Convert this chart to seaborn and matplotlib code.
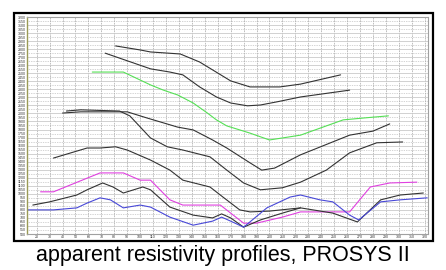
import numpy as np
import pandas as pd
import matplotlib
matplotlib.use('Agg')
import matplotlib.pyplot as plt
import seaborn as sns
from matplotlib.patches import Rectangle
from matplotlib.ticker import MultipleLocator

# profile data (station, apparent resistivity)
A_x = [81, 100, 108, 131, 146, 170, 185, 208, 224, 255]
A_y = [2840, 2790, 2765, 2740, 2640, 2405, 2330, 2330, 2365, 2480]

B_x = [73, 108, 123, 133, 146, 159, 170, 183, 193, 206, 224, 262]
B_y = [2750, 2555, 2515, 2480, 2330, 2205, 2130, 2095, 2105, 2145, 2205, 2290]

G_x = [63, 87, 108, 118, 129, 141, 152, 159, 167, 177, 185, 200, 210, 224, 257, 274, 292]
G_y = [2515, 2515, 2355, 2290, 2230, 2130, 2005, 1920, 1845, 1795, 1755, 1670, 1695, 1730, 1920, 1945, 1970]

D2_x = [40, 54, 90, 105, 129, 141, 156, 167, 185, 194, 204, 224, 262, 280, 293]
D2_y = [2005, 2020, 2020, 1945, 1830, 1795, 1670, 1570, 1385, 1295, 1320, 1485, 1730, 1780, 1870]

D1_x = [43, 54, 84, 92, 108, 121, 133, 154, 167, 180, 193, 210, 224, 244, 262, 283, 303]
D1_y = [2030, 2045, 2030, 1970, 1695, 1585, 1545, 1460, 1295, 1135, 1050, 1075, 1145, 1295, 1510, 1635, 1645]

C_x = [33, 59, 69, 81, 90, 108, 123, 133, 154, 164, 177, 185, 200, 224]
C_y = [1445, 1570, 1570, 1585, 1545, 1420, 1295, 1170, 1085, 960, 800, 775, 785, 825]

M_x = [23, 33, 46, 59, 69, 87, 100, 108, 123, 133, 162, 180, 190, 210, 224, 262, 278, 293, 314]
M_y = [1025, 1025, 1110, 1195, 1260, 1260, 1170, 1170, 925, 860, 860, 635, 635, 710, 775, 775, 1085, 1135, 1145]

E_x = [17, 30, 51, 59, 71, 79, 87, 95, 102, 108, 123, 141, 156, 163, 170, 180, 193, 210, 224, 249, 268, 286, 301, 319]
E_y = [860, 900, 985, 1050, 1135, 1085, 1010, 1050, 1085, 1050, 835, 735, 700, 750, 700, 585, 675, 760, 825, 760, 650, 925, 985, 1010]

BL_x = [13, 33, 51, 59, 69, 77, 87, 100, 108, 123, 141, 156, 163, 170, 180, 198, 216, 224, 239, 249, 262, 269, 286, 301, 322]
BL_y = [800, 800, 825, 885, 950, 925, 825, 860, 835, 710, 610, 660, 710, 660, 585, 825, 960, 985, 925, 900, 735, 675, 900, 925, 950]

profiles = [
    (A_x, A_y, '#333333'),
    (B_x, B_y, '#333333'),
    (G_x, G_y, '#55e055'),
    (D2_x, D2_y, '#333333'),
    (D1_x, D1_y, '#333333'),
    (C_x, C_y, '#333333'),
    (M_x, M_y, '#e040e0'),
    (E_x, E_y, '#333333'),
    (BL_x, BL_y, '#4848d8'),
]

sns.set_theme(style='white')
plt.rcParams['font.family'] = ['Liberation Sans', 'DejaVu Sans']

fig = plt.figure(figsize=(4.46, 2.70), dpi=100)
ax = fig.add_axes([27 / 446, 36 / 270, 401 / 446, 217 / 270])

for xs, ys, col in profiles:
    sns.lineplot(x=xs, y=ys, color=col, lw=0.8, sort=False, ax=ax, legend=False)

ax.set_xlim(12.5, 322.6)
ax.set_ylim(500, 3200)

# grid like the PROSYS screen
ax.xaxis.set_major_locator(MultipleLocator(10))
ax.yaxis.set_major_locator(MultipleLocator(100))
ax.yaxis.set_minor_locator(MultipleLocator(50))
ax.grid(True, which='major', axis='x', color='#b5b5b5', lw=0.6, ls=(0, (2, 1)))
ax.grid(True, which='major', axis='y', color='#cacaca', lw=0.6, ls='-')
ax.grid(True, which='minor', axis='y', color='#aaaaaa', lw=0.5, ls=(0, (1, 1.5)))
ax.set_axisbelow(True)

ax.tick_params(axis='both', which='both', length=0, pad=1, labelsize=2.6, colors='#333333')
ax.set_yticks(np.arange(550, 3200, 100), minor=True)
ax.set_yticklabels([str(v) for v in np.arange(550, 3200, 100)], minor=True, fontsize=2.6, color='#333333')
ax.set_xlabel('')
ax.set_ylabel('')

for side in ['top', 'right', 'bottom']:
    ax.spines[side].set_color('#a0a0a0')
    ax.spines[side].set_linewidth(0.8)
ax.spines['left'].set_color('#9a9a55')
ax.spines['left'].set_linewidth(1.0)

# outer frame
fig.patches.append(Rectangle((14 / 446, 29 / 270), 419 / 446, 228 / 270,
                             transform=fig.transFigure, fill=False,
                             edgecolor='black', lw=1.6))

fig.text(0.5, 14 / 270, 'apparent resistivity profiles, PROSYS II',
         ha='center', va='center', fontsize=15.5, color='black')

plt.savefig('out.png', dpi=100)
plt.close()
